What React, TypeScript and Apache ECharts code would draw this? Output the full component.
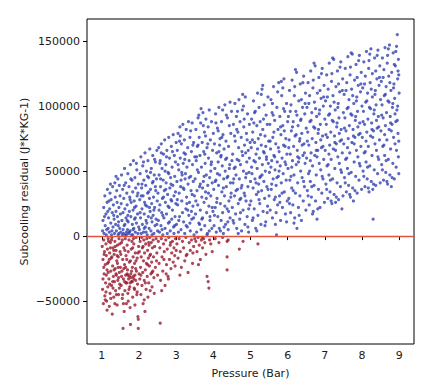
import React, { useEffect, useRef } from "react";
import * as echarts from "echarts";

// Pressure (Bar), residual in thousands of J*K*KG-1
const bluePoints: [number, number][] = [
[1.02,4],[1.03,12],[1.05,22],[1.06,2],[1.08,31],[1.09,8],[1.11,17],[1.12,1],[1.14,26],[1.15,36],[1.17,6],[1.18,14],[1.2,3],[1.21,21],[1.22,33],[1.24,10],[1.25,28],[1.26,1],[1.28,18],[1.29,38],[1.3,7],[1.31,24],[1.33,13],[1.34,2],[1.35,41],[1.36,30],[1.37,9],[1.38,19],[1.39,4],[1.4,35],[1.41,26],[1.42,15],[1.43,44],[1.44,1],[1.45,11],[1.46,22],[1.47,39],[1.48,6],[1.49,31],[1.5,17],[1.07,15],[1.13,5],[1.19,27],[1.27,4],[1.32,16],[1.38,46],[1.44,8],[1.16,19],[1.23,40],[1.46,2],
[1.51,3],[1.52,25],[1.53,47],[1.54,12],[1.55,1],[1.56,36],[1.57,18],[1.58,2],[1.59,29],[1.6,8],[1.61,52],[1.62,21],[1.63,1],[1.64,41],[1.65,14],[1.66,3],[1.67,33],[1.68,24],[1.69,5],[1.7,48],[1.71,11],[1.72,2],[1.73,38],[1.74,19],[1.75,30],[1.76,4],[1.77,55],[1.78,15],[1.79,26],[1.8,1],[1.81,43],[1.82,9],[1.83,34],[1.84,20],[1.85,58],[1.86,6],[1.87,27],[1.88,13],[1.89,45],[1.9,3],[1.91,37],[1.92,23],[1.93,10],[1.94,51],[1.95,31],[1.96,17],[1.97,2],[1.98,40],[1.99,7],[1.57,5],[1.62,9],[1.66,1],[1.7,16],[1.74,3],[1.78,44],[1.83,1],[1.88,22],[1.93,56],[1.6,39],[1.68,12],[1.76,28],[1.84,5],[1.9,14],[1.97,33],
[2.01,5],[2.02,28],[2.03,48],[2.04,14],[2.05,61],[2.06,2],[2.07,37],[2.08,21],[2.09,9],[2.1,54],[2.11,31],[2.12,3],[2.13,43],[2.14,17],[2.15,26],[2.16,64],[2.17,7],[2.18,39],[2.19,12],[2.2,50],[2.21,23],[2.22,1],[2.23,33],[2.24,58],[2.25,15],[2.26,45],[2.27,6],[2.28,29],[2.29,67],[2.3,19],[2.31,36],[2.32,4],[2.33,52],[2.34,25],[2.35,11],[2.36,41],[2.37,62],[2.38,16],[2.39,30],[2.4,2],[2.41,47],[2.42,22],[2.43,8],[2.44,57],[2.45,35],[2.46,13],[2.47,44],[2.48,66],[2.49,27],[2.5,4],[2.03,18],[2.08,40],[2.12,57],[2.17,24],[2.21,10],[2.26,34],[2.31,49],[2.35,1],[2.4,20],[2.44,38],[2.48,9],[2.06,31],[2.14,6],[2.23,46],[2.33,14],[2.42,59],[2.19,3],[2.28,22],[2.38,42],
[2.51,33],[2.52,12],[2.53,68],[2.54,47],[2.55,3],[2.56,24],[2.57,58],[2.58,38],[2.59,8],[2.6,71],[2.61,18],[2.62,52],[2.63,29],[2.64,1],[2.65,43],[2.66,63],[2.67,14],[2.68,35],[2.69,74],[2.7,6],[2.71,26],[2.72,55],[2.73,41],[2.74,17],[2.75,66],[2.76,2],[2.77,32],[2.78,49],[2.79,10],[2.8,76],[2.81,22],[2.82,60],[2.83,37],[2.84,4],[2.85,45],[2.86,28],[2.87,69],[2.88,13],[2.89,53],[2.9,20],[2.91,39],[2.92,78],[2.93,7],[2.94,31],[2.95,62],[2.96,46],[2.97,15],[2.98,57],[2.99,25],[3.0,72],[2.54,20],[2.58,44],[2.62,5],[2.66,30],[2.7,50],[2.74,61],[2.78,23],[2.82,11],[2.86,40],[2.9,65],[2.94,2],[2.98,34],[2.56,56],[2.64,16],[2.72,36],[2.8,48],[2.88,27],[2.96,8],[2.6,64],
[3.01,9],[3.02,42],[3.03,66],[3.04,24],[3.05,79],[3.06,3],[3.07,51],[3.08,33],[3.09,15],[3.1,84],[3.11,60],[3.12,38],[3.13,5],[3.14,71],[3.15,27],[3.16,47],[3.17,18],[3.18,86],[3.19,56],[3.2,11],[3.21,36],[3.22,74],[3.23,2],[3.24,44],[3.25,63],[3.26,21],[3.27,82],[3.28,30],[3.29,53],[3.3,7],[3.31,68],[3.32,40],[3.33,88],[3.34,16],[3.35,58],[3.36,26],[3.37,76],[3.38,4],[3.39,46],[3.4,35],[3.41,65],[3.42,13],[3.43,87],[3.44,55],[3.45,23],[3.46,42],[3.47,72],[3.48,1],[3.49,31],[3.5,61],[3.03,28],[3.07,12],[3.11,77],[3.15,49],[3.19,37],[3.23,59],[3.27,8],[3.31,20],[3.35,45],[3.39,81],[3.43,32],[3.47,14],[3.05,55],[3.13,43],[3.21,64],[3.29,25],[3.37,10],[3.45,70],[3.09,73],[3.25,48],[3.41,19],
[3.51,44],[3.52,17],[3.53,82],[3.54,58],[3.55,3],[3.56,35],[3.57,69],[3.58,24],[3.59,91],[3.6,49],[3.61,10],[3.62,76],[3.63,38],[3.64,62],[3.65,20],[3.66,87],[3.67,5],[3.68,53],[3.69,30],[3.7,72],[3.71,14],[3.72,95],[3.73,42],[3.74,65],[3.75,26],[3.76,80],[3.77,8],[3.78,56],[3.79,34],[3.8,90],[3.81,47],[3.82,18],[3.83,68],[3.84,2],[3.85,39],[3.86,84],[3.87,60],[3.88,23],[3.89,97],[3.9,45],[3.91,12],[3.92,74],[3.93,31],[3.94,55],[3.95,88],[3.96,6],[3.97,41],[3.98,66],[3.99,19],[4.0,79],[3.53,27],[3.57,51],[3.61,93],[3.65,40],[3.69,13],[3.73,85],[3.77,63],[3.81,29],[3.85,71],[3.89,4],[3.93,50],[3.97,22],[3.55,61],[3.63,9],[3.71,37],[3.79,77],[3.87,33],[3.95,57],[3.59,70],[3.75,46],[3.91,15],[3.67,98],[3.83,1],
[4.01,36],[4.02,8],[4.03,71],[4.04,52],[4.05,22],[4.06,94],[4.07,43],[4.08,3],[4.09,64],[4.1,29],[4.11,83],[4.12,15],[4.13,57],[4.14,39],[4.15,99],[4.16,6],[4.17,47],[4.18,75],[4.19,25],[4.2,61],[4.21,12],[4.22,88],[4.23,34],[4.24,54],[4.25,18],[4.26,78],[4.27,2],[4.28,44],[4.29,67],[4.3,31],[4.31,101],[4.32,50],[4.33,9],[4.34,73],[4.35,38],[4.36,60],[4.37,21],[4.38,91],[4.39,46],[4.4,5],[4.41,69],[4.42,27],[4.43,85],[4.44,55],[4.45,14],[4.46,41],[4.47,79],[4.48,33],[4.49,96],[4.5,58],[4.03,16],[4.07,87],[4.11,48],[4.15,65],[4.19,4],[4.23,76],[4.27,37],[4.31,23],[4.35,93],[4.39,11],[4.43,52],[4.47,30],[4.05,42],[4.13,81],[4.21,62],[4.29,7],[4.37,45],[4.45,103],[4.09,26],[4.25,97],[4.41,19],[4.17,70],[4.33,59],
[4.51,22],[4.52,63],[4.53,41],[4.54,86],[4.55,10],[4.56,52],[4.57,31],[4.58,102],[4.59,73],[4.6,17],[4.61,47],[4.62,92],[4.63,6],[4.64,59],[4.65,36],[4.66,80],[4.67,25],[4.68,68],[4.69,105],[4.7,44],[4.71,13],[4.72,88],[4.73,55],[4.74,29],[4.75,76],[4.76,4],[4.77,39],[4.78,97],[4.79,62],[4.8,20],[4.81,50],[4.82,84],[4.83,33],[4.84,70],[4.85,9],[4.86,107],[4.87,45],[4.88,27],[4.89,79],[4.9,57],[4.91,15],[4.92,94],[4.93,38],[4.94,66],[4.95,3],[4.96,49],[4.97,86],[4.98,24],[4.99,72],[5.0,42],[4.53,12],[4.57,77],[4.61,35],[4.65,96],[4.69,58],[4.73,18],[4.77,65],[4.81,100],[4.85,31],[4.89,48],[4.93,7],[4.97,60],[4.55,44],[4.63,82],[4.71,28],[4.79,109],[4.87,64],[4.95,21],[4.59,53],[4.75,37],[4.91,74],[4.67,2],[4.83,90],
[5.01,27],[5.02,68],[5.03,90],[5.04,48],[5.05,12],[5.06,80],[5.07,37],[5.08,104],[5.09,58],[5.1,21],[5.11,72],[5.12,44],[5.13,96],[5.14,6],[5.15,63],[5.16,32],[5.17,85],[5.18,52],[5.19,110],[5.2,16],[5.21,75],[5.22,40],[5.23,99],[5.24,60],[5.25,25],[5.26,88],[5.27,46],[5.28,9],[5.29,70],[5.3,35],[5.31,113],[5.32,55],[5.33,82],[5.34,19],[5.35,65],[5.36,42],[5.37,101],[5.38,29],[5.39,77],[5.4,50],[5.41,11],[5.42,93],[5.43,61],[5.44,38],[5.45,86],[5.46,23],[5.47,107],[5.48,56],[5.49,73],[5.5,31],[5.03,53],[5.07,14],[5.11,95],[5.15,41],[5.19,67],[5.23,28],[5.27,78],[5.31,47],[5.35,90],[5.39,8],[5.43,59],[5.47,36],[5.05,74],[5.13,57],[5.21,34],[5.29,109],[5.37,64],[5.45,18],[5.09,87],[5.25,45],[5.41,69],[5.17,4],[5.33,116],
[5.51,49],[5.52,86],[5.53,20],[5.54,67],[5.55,105],[5.56,36],[5.57,58],[5.58,95],[5.59,14],[5.6,76],[5.61,44],[5.62,115],[5.63,62],[5.64,28],[5.65,89],[5.66,51],[5.67,9],[5.68,71],[5.69,39],[5.7,1],[5.71,99],[5.72,57],[5.73,24],[5.74,82],[5.75,46],[5.76,118],[5.77,65],[5.78,31],[5.79,92],[5.8,54],[5.81,12],[5.82,78],[5.83,41],[5.84,108],[5.85,60],[5.86,22],[5.87,85],[5.88,48],[5.89,70],[5.9,121],[5.91,34],[5.92,96],[5.93,57],[5.94,17],[5.95,75],[5.96,43],[5.97,102],[5.98,63],[5.99,27],[6.0,88],[5.53,73],[5.57,40],[5.61,93],[5.65,61],[5.69,18],[5.73,111],[5.77,50],[5.81,84],[5.85,33],[5.89,98],[5.93,69],[5.97,11],[5.55,53],[5.63,80],[5.71,45],[5.79,26],[5.87,114],[5.95,55],[5.59,102],[5.75,68],[5.91,81],[5.67,30],[5.83,119],
[6.01,52],[6.02,92],[6.03,29],[6.04,74],[6.05,112],[6.06,43],[6.07,63],[6.08,18],[6.09,101],[6.1,81],[6.11,37],[6.12,120],[6.13,58],[6.14,24],[6.15,88],[6.16,69],[6.17,47],[6.18,108],[6.19,14],[6.2,77],[6.21,33],[6.22,96],[6.23,55],[6.24,126],[6.25,6],[6.26,66],[6.27,41],[6.28,85],[6.29,22],[6.3,104],[6.31,60],[6.32,73],[6.33,31],[6.34,117],[6.35,50],[6.36,90],[6.37,12],[6.38,79],[6.39,45],[6.4,99],[6.41,62],[6.42,27],[6.43,123],[6.44,71],[6.45,38],[6.46,94],[6.47,56],[6.48,110],[6.49,20],[6.5,83],[6.03,68],[6.07,96],[6.11,53],[6.15,35],[6.19,115],[6.23,78],[6.27,61],[6.31,16],[6.35,89],[6.39,70],[6.43,42],[6.47,102],[6.05,25],[6.13,84],[6.21,128],[6.29,57],[6.37,105],[6.45,64],[6.09,46],[6.25,93],[6.41,118],[6.17,10],[6.33,75],
[6.51,60],[6.52,99],[6.53,35],[6.54,80],[6.55,118],[6.56,48],[6.57,70],[6.58,24],[6.59,108],[6.6,88],[6.61,42],[6.62,127],[6.63,64],[6.64,30],[6.65,95],[6.66,75],[6.67,54],[6.68,114],[6.69,19],[6.7,84],[6.71,39],[6.72,103],[6.73,62],[6.74,131],[6.75,27],[6.76,72],[6.77,47],[6.78,92],[6.79,13],[6.8,110],[6.81,66],[6.82,79],[6.83,36],[6.84,122],[6.85,56],[6.86,97],[6.87,22],[6.88,86],[6.89,51],[6.9,106],[6.91,68],[6.92,33],[6.93,129],[6.94,77],[6.95,44],[6.96,100],[6.97,59],[6.98,116],[6.99,26],[7.0,90],[6.53,73],[6.57,102],[6.61,58],[6.65,38],[6.69,120],[6.73,83],[6.77,66],[6.81,21],[6.85,94],[6.89,74],[6.93,46],[6.97,107],[6.55,31],[6.63,89],[6.71,133],[6.79,61],[6.87,112],[6.95,69],[6.59,50],[6.75,98],[6.91,125],[6.67,17],[6.83,82],
[7.01,66],[7.02,104],[7.03,40],[7.04,86],[7.05,124],[7.06,54],[7.07,76],[7.08,29],[7.09,113],[7.1,93],[7.11,47],[7.12,133],[7.13,70],[7.14,34],[7.15,100],[7.16,80],[7.17,59],[7.18,119],[7.19,25],[7.2,89],[7.21,44],[7.22,108],[7.23,67],[7.24,136],[7.25,32],[7.26,77],[7.27,52],[7.28,97],[7.29,26],[7.3,115],[7.31,71],[7.32,84],[7.33,41],[7.34,127],[7.35,61],[7.36,102],[7.37,28],[7.38,91],[7.39,56],[7.4,111],[7.41,73],[7.42,38],[7.43,134],[7.44,82],[7.45,49],[7.46,21],[7.47,64],[7.48,121],[7.49,31],[7.5,95],[7.03,78],[7.07,107],[7.11,63],[7.15,43],[7.19,125],[7.23,88],[7.27,72],[7.31,30],[7.35,99],[7.39,79],[7.43,51],[7.47,112],[7.05,36],[7.13,94],[7.21,137],[7.29,66],[7.37,117],[7.45,74],[7.09,55],[7.25,103],[7.41,130],[7.17,27],[7.33,87],
[7.51,71],[7.52,109],[7.53,45],[7.54,91],[7.55,129],[7.56,59],[7.57,81],[7.58,34],[7.59,118],[7.6,98],[7.61,52],[7.62,138],[7.63,75],[7.64,39],[7.65,105],[7.66,85],[7.67,64],[7.68,124],[7.69,30],[7.7,94],[7.71,49],[7.72,113],[7.73,72],[7.74,140],[7.75,37],[7.76,82],[7.77,27],[7.78,102],[7.79,57],[7.8,120],[7.81,76],[7.82,89],[7.83,46],[7.84,132],[7.85,66],[7.86,107],[7.87,33],[7.88,96],[7.89,61],[7.9,116],[7.91,78],[7.92,43],[7.93,139],[7.94,87],[7.95,54],[7.96,111],[7.97,69],[7.98,126],[7.99,36],[8.0,100],[7.53,83],[7.57,112],[7.61,68],[7.65,48],[7.69,130],[7.73,93],[7.77,77],[7.81,35],[7.85,104],[7.89,84],[7.93,56],[7.97,117],[7.55,41],[7.63,99],[7.71,141],[7.79,71],[7.87,122],[7.95,79],[7.59,60],[7.75,108],[7.91,135],[7.67,32],[7.83,92],
[8.01,76],[8.02,114],[8.03,50],[8.04,96],[8.05,134],[8.06,64],[8.07,86],[8.08,38],[8.09,123],[8.1,103],[8.11,57],[8.12,142],[8.13,80],[8.14,44],[8.15,110],[8.16,90],[8.17,69],[8.18,129],[8.19,34],[8.2,99],[8.21,54],[8.22,118],[8.23,77],[8.24,144],[8.25,42],[8.26,87],[8.27,62],[8.28,107],[8.29,36],[8.3,13],[8.31,81],[8.32,94],[8.33,51],[8.34,137],[8.35,71],[8.36,112],[8.37,39],[8.38,101],[8.39,66],[8.4,121],[8.41,83],[8.42,48],[8.43,143],[8.44,92],[8.45,59],[8.46,116],[8.47,74],[8.48,131],[8.49,41],[8.5,105],[8.03,88],[8.07,117],[8.11,73],[8.15,53],[8.19,135],[8.23,98],[8.27,82],[8.31,40],[8.35,109],[8.39,89],[8.43,61],[8.47,122],[8.05,46],[8.13,104],[8.21,140],[8.29,76],[8.37,127],[8.45,84],[8.09,65],[8.25,113],[8.41,139],[8.17,37],[8.33,97],[8.28,125],
[8.51,81],[8.52,119],[8.53,55],[8.54,101],[8.55,137],[8.56,69],[8.57,91],[8.58,43],[8.59,128],[8.6,108],[8.61,62],[8.62,145],[8.63,85],[8.64,49],[8.65,115],[8.66,95],[8.67,74],[8.68,133],[8.69,40],[8.7,104],[8.71,59],[8.72,123],[8.73,82],[8.74,147],[8.75,47],[8.76,92],[8.77,67],[8.78,112],[8.79,38],[8.8,126],[8.81,86],[8.82,99],[8.83,56],[8.84,141],[8.85,76],[8.86,117],[8.87,44],[8.88,106],[8.89,71],[8.9,131],[8.91,88],[8.92,53],[8.93,146],[8.94,97],[8.95,155],[8.96,121],[8.97,79],[8.98,136],[8.99,48],[9.0,110],[8.53,93],[8.57,122],[8.61,78],[8.65,58],[8.69,139],[8.73,103],[8.77,87],[8.81,45],[8.85,114],[8.89,94],[8.93,66],[8.97,127],[8.55,51],[8.63,109],[8.71,144],[8.79,81],[8.87,132],[8.95,89],[8.59,70],[8.75,118],[8.91,142],[8.67,42],[8.83,102],[8.99,73],[8.99,124],[8.98,61],[8.96,100]
];

const redPoints: [number, number][] = [
[1.01,-8],[1.02,-41],[1.03,-18],[1.04,-52],[1.05,-3],[1.06,-29],[1.07,-12],[1.08,-46],[1.09,-22],[1.1,-36],[1.11,-6],[1.12,-15],[1.13,-50],[1.14,-26],[1.15,-10],[1.16,-39],[1.17,-2],[1.18,-20],[1.19,-33],[1.2,-54],[1.21,-13],[1.22,-44],[1.23,-5],[1.24,-27],[1.25,-17],[1.26,-38],[1.27,-1],[1.28,-60],[1.29,-23],[1.3,-9],[1.31,-31],[1.32,-47],[1.33,-14],[1.34,-35],[1.35,-4],[1.36,-25],[1.37,-42],[1.38,-11],[1.39,-30],[1.4,-19],[1.41,-53],[1.42,-7],[1.43,-34],[1.44,-16],[1.45,-45],[1.46,-2],[1.47,-28],[1.48,-37],[1.49,-12],[1.5,-24],[1.03,-33],[1.06,-14],[1.09,-49],[1.12,-30],[1.15,-21],[1.18,-4],[1.21,-37],[1.24,-48],[1.27,-16],[1.3,-40],[1.33,-26],[1.36,-8],[1.39,-45],[1.42,-21],[1.45,-32],[1.48,-6],[1.05,-24],[1.11,-43],[1.17,-28],[1.23,-9],[1.29,-35],[1.35,-52],[1.41,-15],[1.47,-40],[1.14,-57],[1.26,-3],[1.38,-29],[1.2,-18],[1.32,-11],[1.44,-24],
[1.51,-14],[1.52,-38],[1.53,-5],[1.54,-27],[1.55,-48],[1.56,-18],[1.57,-71],[1.58,-33],[1.59,-9],[1.6,-58],[1.61,-22],[1.62,-42],[1.63,-2],[1.64,-30],[1.65,-15],[1.66,-52],[1.67,-36],[1.68,-7],[1.69,-26],[1.7,-44],[1.71,-12],[1.72,-33],[1.73,-3],[1.74,-20],[1.75,-39],[1.76,-55],[1.77,-68],[1.78,-29],[1.79,-10],[1.8,-35],[1.81,-4],[1.82,-24],[1.83,-47],[1.84,-16],[1.85,-31],[1.86,-6],[1.87,-40],[1.88,-21],[1.89,-53],[1.9,-13],[1.91,-34],[1.92,-1],[1.93,-27],[1.94,-45],[1.95,-17],[1.96,-37],[1.97,-62],[1.98,-71],[1.99,-8],[2.0,-29],[1.53,-31],[1.56,-45],[1.59,-25],[1.62,-11],[1.65,-36],[1.68,-29],[1.71,-50],[1.74,-31],[1.77,-19],[1.8,-27],[1.83,-9],[1.86,-33],[1.89,-30],[1.92,-19],[1.95,-43],[1.98,-64],[1.55,-3],[1.61,-35],[1.67,-18],[1.73,-41],[1.79,-32],[1.85,-2],[1.91,-25],[1.97,-13],[1.64,-24],[1.76,-36],[1.88,-41],[1.58,-52],[1.7,-30],[1.82,-35],
[2.01,-12],[2.02,-33],[2.03,-4],[2.04,-24],[2.05,-45],[2.06,-16],[2.07,-1],[2.08,-38],[2.09,-9],[2.1,-28],[2.11,-52],[2.12,-19],[2.13,-3],[2.14,-34],[2.15,-13],[2.16,-58],[2.17,-26],[2.18,-6],[2.19,-41],[2.2,-21],[2.21,-2],[2.22,-31],[2.23,-11],[2.24,-47],[2.25,-17],[2.26,-36],[2.27,-7],[2.28,-23],[2.29,-1],[2.3,-42],[2.31,-14],[2.32,-29],[2.33,-5],[2.34,-20],[2.35,-39],[2.36,-9],[2.37,-27],[2.38,-3],[2.39,-16],[2.4,-32],[2.42,-8],[2.44,-24],[2.46,-2],[2.48,-13],[2.5,-30],[2.05,-30],[2.11,-8],[2.17,-36],[2.23,-22],[2.29,-15],[2.35,-28],[2.41,-44],[2.47,-19],[2.14,-49],[2.26,-5],
[2.52,-4],[2.54,-21],[2.56,-9],[2.57,-67],[2.58,-34],[2.6,-2],[2.62,-16],[2.64,-27],[2.66,-6],[2.68,-12],[2.7,-38],[2.72,-3],[2.74,-22],[2.76,-10],[2.78,-31],[2.8,-1],[2.82,-18],[2.84,-7],[2.86,-25],[2.88,-13],[2.9,-4],[2.92,-20],[2.94,-9],[2.96,-15],[2.98,-2],[3.0,-11],[2.61,-42],[2.73,-29],[2.85,-5],[2.97,-23],[2.67,-18],[2.79,-33],
[3.02,-6],[3.05,-17],[3.08,-2],[3.11,-12],[3.14,-24],[3.17,-4],[3.2,-9],[3.23,-19],[3.26,-1],[3.29,-14],[3.32,-28],[3.35,-5],[3.38,-11],[3.41,-3],[3.44,-21],[3.47,-8],[3.5,-2],[3.1,-30],[3.27,-15],[3.45,-13],
[3.53,-4],[3.56,-12],[3.59,-1],[3.62,-7],[3.65,-18],[3.68,-3],[3.71,-9],[3.74,-2],[3.77,-5],[3.8,-14],[3.83,-31],[3.86,-35],[3.88,-40],[3.9,-3],[3.93,-6],[3.97,-12],[3.6,-22],[3.7,-1],
[4.05,-2],[4.15,-5],[4.25,-1],[4.37,-4],[4.37,-16],[4.37,-26],[4.4,-3],[4.7,-10],[4.8,-4],[5.2,-6]
];

const xTicks = [1, 2, 3, 4, 5, 6, 7, 8, 9];
const yTicks = [-50000, 0, 50000, 100000, 150000];
const xRange = [0.6, 9.4];
const yRange = [-83000, 167000];
const zeroLine = 0;

const FONT = "DejaVu Sans";
const TEXT = "#1a1a1a";

export default function App() {
  const ref = useRef<HTMLDivElement>(null);
  useEffect(() => {
    if (!ref.current) return;
    const chart = echarts.init(ref.current, null, { renderer: "svg" });
    const toData = (pts: [number, number][]) => pts.map(([x, y]) => [x, y * 1000]);
    chart.setOption({
      animation: false,
      backgroundColor: "#ffffff",
      grid: {
        left: 87,
        top: 19,
        right: 19,
        bottom: 47,
        show: true,
        borderColor: "#000",
        borderWidth: 1,
        backgroundColor: "transparent",
      },
      xAxis: {
        type: "value",
        min: xRange[0],
        max: xRange[1],
        name: "Pressure (Bar)",
        nameLocation: "middle",
        nameGap: 24,
        nameMoveOverlap: false,
        nameTextStyle: { fontFamily: FONT, fontSize: 11, color: TEXT },
        axisLine: { show: false },
        splitLine: { show: false },
        axisTick: { show: true, inside: false, length: 4, lineStyle: { color: "#000" }, customValues: xTicks },
        axisLabel: { fontFamily: FONT, fontSize: 11, color: TEXT, margin: 6, customValues: xTicks },
      },
      yAxis: {
        type: "value",
        min: yRange[0],
        max: yRange[1],
        name: "Subcooling residual (J*K*KG-1)",
        nameLocation: "middle",
        nameRotate: 90,
        nameGap: 57,
        nameMoveOverlap: false,
        nameTextStyle: { fontFamily: FONT, fontSize: 11, color: TEXT },
        axisLine: { show: false },
        splitLine: { show: false },
        axisTick: { show: true, inside: false, length: 4, lineStyle: { color: "#000" }, customValues: yTicks },
        axisLabel: {
          fontFamily: FONT,
          fontSize: 11,
          color: TEXT,
          margin: 7,
          customValues: yTicks,
          formatter: (v: number) => String(v).replace("-", "\u2212"),
        },
      },
      series: [
        {
          type: "scatter",
          data: toData(bluePoints),
          symbolSize: 3.2,
          itemStyle: { color: "#3544b0" },
          silent: true,
        },
        {
          type: "scatter",
          data: toData(redPoints),
          symbolSize: 3.2,
          itemStyle: { color: "#971a2e" },
          silent: true,
          markLine: {
            silent: true,
            symbol: ["none", "none"],
            label: { show: false },
            lineStyle: { color: "#e2533c", width: 1.3, type: "solid" },
            data: [{ yAxis: zeroLine }],
          },
        },
      ],
    });
    return () => chart.dispose();
  }, []);
  return (
    <div
      ref={ref}
      style={{ position: "fixed", left: 0, top: 0, width: 433, height: 391 }}
    />
  );
}
